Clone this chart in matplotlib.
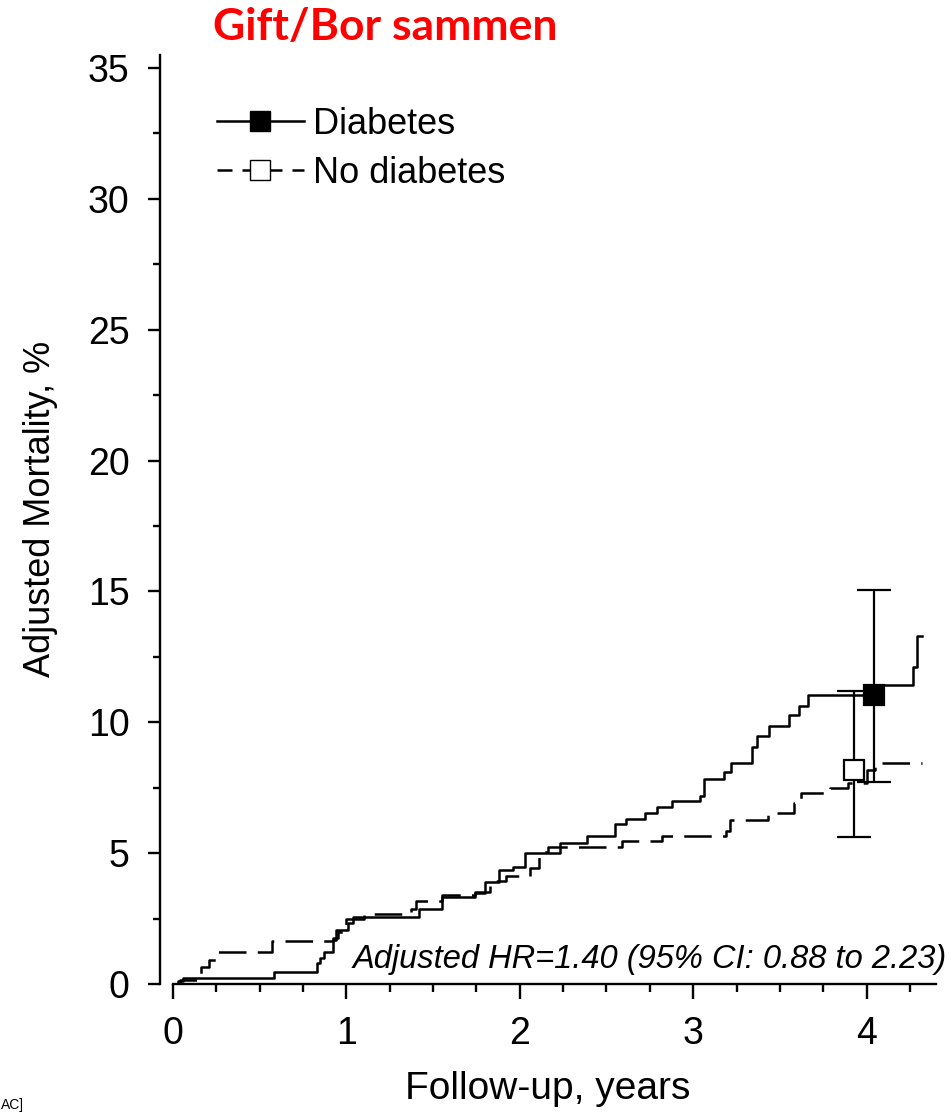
import matplotlib.pyplot as plt
from matplotlib.lines import Line2D

# Kaplan-Meier style step curves (years, adjusted mortality %)
diab_t = [0, 0.03, 0.06, 0.58, 0.83, 0.85, 0.87, 0.92, 0.94, 1.01, 1.04, 1.42, 1.55, 1.74, 1.80, 1.88,
          1.96, 2.03, 2.23, 2.39, 2.55, 2.61, 2.72, 2.79, 2.88, 3.04, 3.06, 3.18, 3.22, 3.34, 3.37, 3.44,
          3.55, 3.61, 3.66, 4.09, 4.27, 4.29, 4.32]
diab_v = [0, 0.10, 0.23, 0.46, 0.80, 0.99, 1.22, 1.68, 2.06, 2.33, 2.56, 2.87, 3.32, 3.48, 3.90, 4.36,
          4.47, 5.00, 5.39, 5.66, 6.10, 6.30, 6.55, 6.75, 7.00, 7.18, 7.83, 8.10, 8.45, 9.06, 9.48, 9.86,
          10.28, 10.62, 11.04, 11.43, 12.10, 13.30, 13.30]

nodiab_t = [0, 0.04, 0.16, 0.21, 0.26, 0.57, 0.92, 0.95, 1.00, 1.10, 1.37, 1.40, 1.55, 1.74, 1.83, 1.92,
            2.06, 2.11, 2.16, 2.59, 2.82, 3.19, 3.21, 3.43, 3.58, 3.62, 3.79, 3.89, 4.00, 4.05, 4.32]
nodiab_v = [0, 0.15, 0.64, 0.92, 1.22, 1.64, 1.76, 2.00, 2.48, 2.68, 2.87, 3.17, 3.40, 3.50, 3.93, 4.13,
            4.43, 5.05, 5.24, 5.47, 5.66, 5.85, 6.27, 6.55, 6.92, 7.30, 7.49, 7.68, 8.18, 8.45, 8.45]

# point estimates with 95% CI at ~4 years: (x, y, low, high)
diab_pt = (4.04, 11.04, 7.72, 15.06)
nodiab_pt = (3.93, 8.18, 5.60, 11.20)

labels = ["Diabetes", "No diabetes"]
hr_text = "Adjusted HR=1.40 (95% CI: 0.88 to 2.23)"

plt.rcParams["font.family"] = ["Liberation Sans", "DejaVu Sans"]

fig = plt.figure(figsize=(9.51, 11.14), dpi=100)
ax = fig.add_axes([0.1682, 0.1167, 0.816, 0.834])

lw = 1.8
ax.step(diab_t, diab_v, where="post", color="black", lw=lw)
ax.step(nodiab_t, nodiab_v, where="post", color="black", lw=lw, dashes=(11, 4.5))

x, y, lo, hi = nodiab_pt
ax.errorbar([x], [y], yerr=[[y - lo], [hi - y]], fmt="s", ms=15, mfc="white", mec="black",
            mew=1.6, ecolor="black", elinewidth=1.6, capsize=12.5, capthick=1.6, zorder=4)
x, y, lo, hi = diab_pt
ax.errorbar([x], [y], yerr=[[y - lo], [hi - y]], fmt="s", ms=15, mfc="black", mec="black",
            mew=1.6, ecolor="black", elinewidth=1.6, capsize=12.5, capthick=1.6, zorder=5)

ax.set_xlim(-0.075, 4.4)
ax.set_ylim(0, 35.5)
ax.set_xticks([0, 1, 2, 3, 4])
ax.set_xticks([i * 0.25 for i in range(18)], minor=True)
ax.set_yticks(range(0, 36, 5))
ax.set_yticks([2.5 + 5 * i for i in range(7)], minor=True)

for s in ["top", "right"]:
    ax.spines[s].set_visible(False)
ax.spines["left"].set_linewidth(1.7)
ax.spines["bottom"].set_linewidth(1.7)
ax.spines["bottom"].set_bounds(0, 4.4)

ax.tick_params(axis="y", which="major", length=9, width=1.7, labelsize=27, pad=13)
ax.tick_params(axis="y", which="minor", length=5, width=1.7)
ax.tick_params(axis="x", which="major", length=11, width=1.7, labelsize=27, pad=12)
ax.tick_params(axis="x", which="minor", length=6, width=1.7)

ax.set_xlabel("Follow-up, years", fontsize=28, labelpad=14)
ax.set_ylabel("Adjusted Mortality, %", fontsize=26)
ax.yaxis.set_label_coords(-0.131, 0.511)

ax.text(4.46, 0.35, hr_text, fontsize=23.5, style="italic", ha="right", va="bottom")

handles = [
    Line2D([], [], color="black", lw=lw, marker="s", ms=15, mfc="black", mec="black"),
    Line2D([], [], color="black", lw=lw, dashes=(6, 4), marker="s", ms=15, mfc="white", mec="black"),
]
ax.legend(handles, labels, loc="upper left", bbox_to_anchor=(0.055, 0.96), frameon=False,
          fontsize=26, handlelength=2.4, handletextpad=0.25, labelspacing=0.4, borderaxespad=0)

fig.text(0.405, 0.976, "Gift/Bor sammen", color="red", fontsize=32, fontweight="bold",
         family="Lato", ha="center", va="center")
fig.text(0.001, 0.002, "AC]", fontsize=10, ha="left", va="bottom")

fig.savefig("out.png", dpi=100)
